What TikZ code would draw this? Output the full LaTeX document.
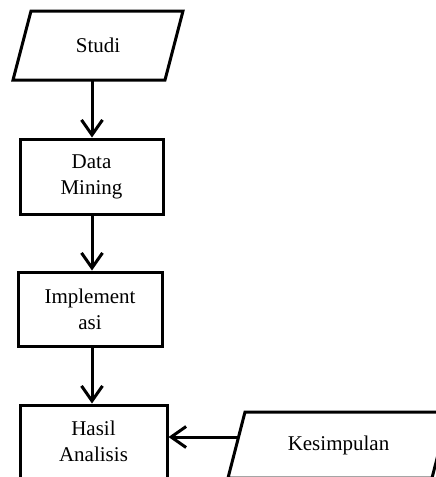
\documentclass[tikz,border=0pt]{standalone}
\usepackage{fontspec}
\setmainfont{Liberation Serif}
\usetikzlibrary{arrows.meta}
\begin{document}
\begin{tikzpicture}[x=1pt,y=-1pt,
  every node/.style={font=\fontsize{21}{26}\selectfont, align=center, line width=3pt, inner sep=0pt},
  procbox/.style={draw, rectangle},
  ioline/.style={draw, line width=3pt, line join=miter},
  arr/.style={line width=3pt, -{Straight Barb[length=15pt,width=21pt]}}]
\useasboundingbox (0,0) rectangle (436,477);
% Studi (input/output parallelogram)
\draw[ioline] (31,11) -- (183,11) -- (165,80) -- (13,80) -- cycle;
\node (studi) at (98,45.5) {Studi};
\coordinate (studibot) at (92,80);
% process boxes
\node[procbox, minimum width=143pt, minimum height=75pt] (dm) at (91.5,176.5) {Data\\Mining};
\node[procbox, minimum width=144pt, minimum height=74pt] (imp) at (90,309) {Implement\\asi};
\node[procbox, minimum width=147pt, minimum height=73pt] (has) at (93.5,441.5) {Hasil\\Analisis};
% Kesimpulan (input/output parallelogram)
\draw[ioline] (245,412) -- (449,412) -- (432,478) -- (228,478) -- cycle;
\node (kes) at (338.5,445) {Kesimpulan};
\coordinate (kesin) at (237.5,437);
% connectors
\draw[arr] (studibot) -- (studibot |- dm.north);
\draw[arr] (studibot |- dm.south) -- (studibot |- imp.north);
\draw[arr] (studibot |- imp.south) -- (studibot |- has.north);
\draw[arr] (kesin) -- (kesin -| has.east);
\end{tikzpicture}
\end{document}
